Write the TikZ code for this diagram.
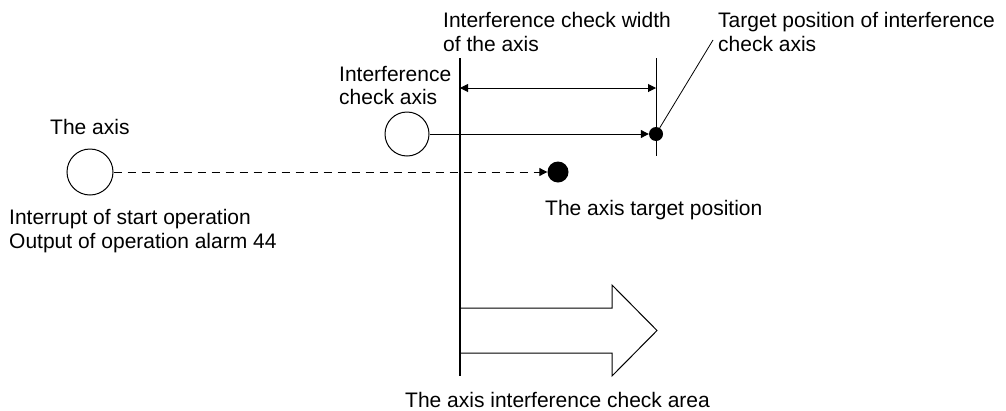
\documentclass[tikz,border=0pt]{standalone}
\usepackage{fontspec}
\setmainfont{Liberation Sans}
\usetikzlibrary{arrows.meta}
\begin{document}
\begin{tikzpicture}[x=1pt,y=-1pt,
  lbl/.style={anchor=base west,inner sep=0pt,font=\fontsize{21}{24}\selectfont},
  thin line/.style={line width=1pt},
  tip/.style={-{Triangle[length=8pt,width=8pt]}},
  ring/.style={circle,draw,line width=1pt,minimum size=#1,inner sep=0pt},
  dot/.style={circle,fill,minimum size=#1,inner sep=0pt}]
\useasboundingbox (0,0) rectangle (1006,410);
% main boundary line and width marker
\coordinate (vtop) at (460,58);
\coordinate (vbot) at (460,376);
\draw[line width=2pt] (vtop) -- (vbot);
\coordinate (rtop) at (656,58);
\coordinate (rbot) at (656,156);
\draw[thin line] (rtop) -- (rbot);
\coordinate (dl) at (460,88);
\coordinate (dr) at (656,88);
\draw[thin line,{Triangle[length=8pt,width=8pt]}-{Triangle[length=8pt,width=8pt]}] (dl) -- (dr);
% interference check axis
\node[ring=44pt] (ica) at (407,134) {};
\node[dot=14pt] (tdot) at (656,134) {};
\draw[thin line,tip] (ica.east) -- (tdot.west);
\coordinate (lead) at (713,40);
\draw[line width=0.8pt] (tdot) -- (lead);
% the axis
\node[ring=46pt] (ax) at (90,172) {};
\node[dot=21pt] (bdot) at (558,172) {};
\draw[thin line,tip,dash pattern=on 8pt off 6pt] (ax.east) -- (bdot.west);
% interference check area arrow
\draw[thin line,line join=miter] (460,308) -- (612,308) -- (612,285) -- (657,330.5) -- (612,376) -- (612,353) -- (460,353);
% labels
\node[lbl] (w1) at (443,27) {Interference check width};
\node[lbl] (w2) at (443,51) {of the axis};
\node[lbl] (t1) at (718,27) {Target position of interference};
\node[lbl] (t2) at (718,51) {check axis};
\node[lbl] (i1) at (339,81) {Interference};
\node[lbl] (i2) at (339,104) {check axis};
\node[lbl] (a1) at (50,134) {The axis};
\node[lbl] (r1) at (9,224) {Interrupt of start operation};
\node[lbl] (r2) at (9,248) {Output of operation alarm 44};
\node[lbl] (p1) at (545,215) {The axis target position};
\node[lbl] (c1) at (405,407) {The axis interference check area};
\end{tikzpicture}
\end{document}
